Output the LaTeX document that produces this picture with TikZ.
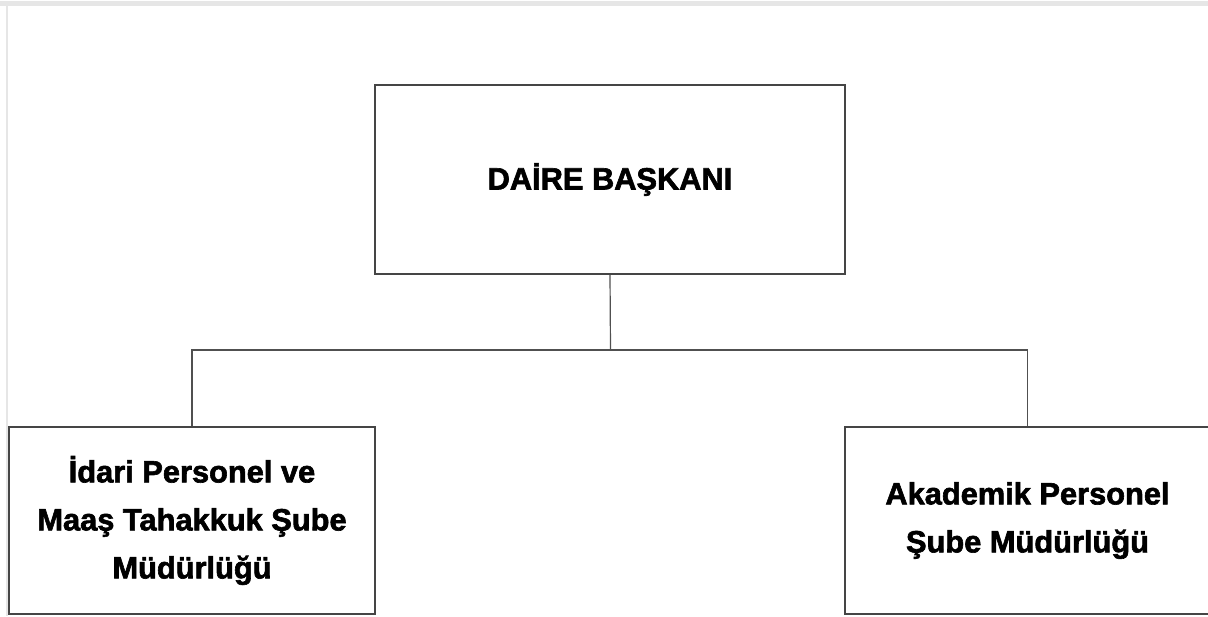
\documentclass[tikz,border=0pt]{standalone}
\usepackage{fontspec}
\setmainfont{Liberation Sans}
\newfontfamily\heavyfont{Liberation Sans Bold}[FakeBold=2]
\usepackage{tikz}
\definecolor{framegray}{HTML}{E6E6E6}
\definecolor{boxline}{HTML}{454545}
\definecolor{linkline}{HTML}{505050}

\begin{document}
\begin{tikzpicture}[x=0.5pt, y=-0.5pt, inner sep=0pt,
  unitbox/.style={draw=boxline, line width=1pt, align=center, font=\heavyfont\fontsize{15.4}{24}\selectfont},
  link/.style={draw=linkline, line width=0.6pt}]
\useasboundingbox (0,0) rectangle (1208,616);
% page frame:
\fill[framegray] (0,1) rectangle (1208,6);
\fill[framegray] (6,6) rectangle (7.5,616);
% units:
\node (top) at (610,179.5) [unitbox, minimum width=235pt, minimum height=94.5pt] {DAİRE BAŞKANI};
\node (left) at (192,520.5) [unitbox, minimum width=182.75pt, minimum height=93.5pt] {İdari Personel ve\\Maaş Tahakkuk Şube\\Müdürlüğü};
\node (right) at (1027.5,520.5) [unitbox, minimum width=182.5pt, minimum height=93.5pt] {Akademik Personel\\Şube Müdürlüğü};
% links:
\coordinate (bus) at (610.5,350);
\draw[link] (top.south) -- (bus);
\draw[link] (left.north) |- (bus) -| (right.north);
\end{tikzpicture}
\end{document}
